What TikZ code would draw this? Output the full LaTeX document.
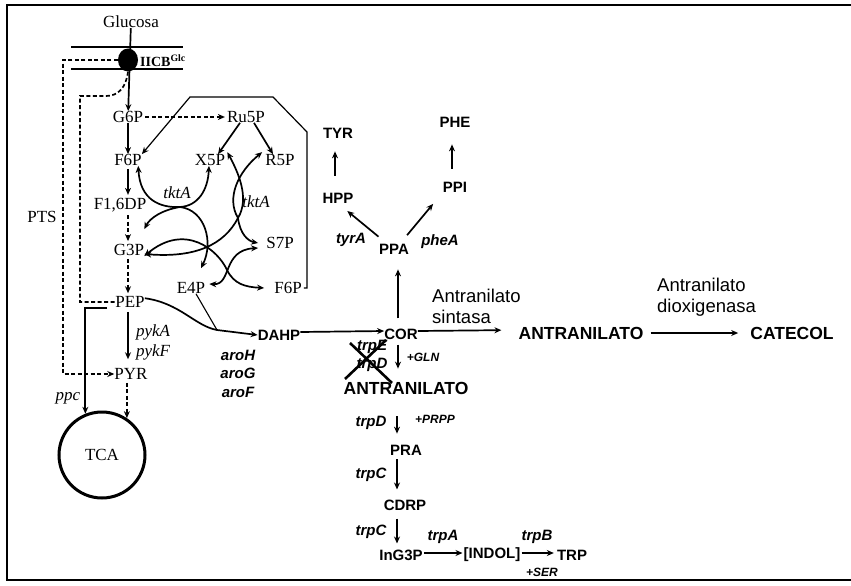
\documentclass[tikz,border=0pt]{standalone}
\usepackage{fontspec}
\setmainfont{Liberation Serif}
\newfontfamily\arialfont{Liberation Sans}
\usetikzlibrary{arrows.meta, shapes.geometric}

\begin{document}
\begin{tikzpicture}[
    x=1pt, y=-1pt,
    met/.style={inner sep=0pt, font=\fontsize{17}{19}\selectfont},
    enz/.style={inner sep=0pt, font=\fontsize{17}{19}\selectfont\itshape},
    aro/.style={inner sep=0pt, font=\arialfont\bfseries\fontsize{15}{17}\selectfont},
    big/.style={inner sep=0pt, font=\arialfont\bfseries\fontsize{17.5}{19}\selectfont},
    gene/.style={inner sep=0pt, font=\arialfont\bfseries\itshape\fontsize{15}{17}\selectfont},
    cof/.style={inner sep=0pt, font=\arialfont\bfseries\itshape\fontsize{12}{13}\selectfont},
    enzname/.style={inner sep=0pt, anchor=west, align=left,
                    font=\arialfont\fontsize{18.5}{21}\selectfont},
    arrow/.style={-{Stealth[length=7pt, width=6pt]}, line width=1.7pt},
    both/.style={{Stealth[length=7pt, width=6pt]}-{Stealth[length=7pt, width=6pt]}, line width=1.7pt},
    dasharrow/.style={arrow, dash pattern=on 4pt off 2.5pt},
    dashline/.style={line width=1.7pt, dash pattern=on 4pt off 2.5pt}
]
  \useasboundingbox (0,0) rectangle (851,586);
  % frame
  \draw[line width=2.4pt] (851,5) -- (7,5) -- (7,580) -- (851,580);

  % glucose uptake
  \node[met] (glc) at (131,22) {Glucosa};
  \draw[line width=1.1pt] (71,47) -- (183,47) (71,69) -- (183,69);
  \node[fill, ellipse, minimum width=20pt, minimum height=23pt, inner sep=0pt] (iicb) at (128,60) {};
  \node[inner sep=0pt, font=\fontsize{14}{16}\selectfont\bfseries] (iicblab) at (163,61) {IICB\textsuperscript{Glc}};
  \node[met] (pts) at (42,217) {PTS};

  % glycolysis
  \node[met] (g6p) at (128,117) {G6P};
  \node[met] (f6p) at (128,160) {F6P};
  \node[met] (fdp) at (120,205) {F1,6DP};
  \node[met] (g3p) at (129,250) {G3P};
  \node[met] (pep) at (130,302) {PEP};
  \node[met] (pyr) at (131,374) {PYR};
  \node[met, circle, draw, line width=3pt, minimum size=86pt] (tca) at (102,455) {TCA};
  \node[enz] (pyka) at (153,332) {pykA};
  \node[enz] (pykf) at (153,352) {pykF};
  \node[enz] (ppc) at (68,398) {ppc};

  % pentose phosphate
  \node[met] (ru5p) at (246,117) {Ru5P};
  \node[met] (x5p) at (210,160) {X5P};
  \node[met] (r5p) at (280,160) {R5P};
  \node[met] (s7p) at (280,243) {S7P};
  \node[met] (e4p) at (191,288) {E4P};
  \node[met] (f6pb) at (288,288) {F6P};
  \node[enz] (tkta) at (177,193) {tktA};
  \node[enz] (tktb) at (256,202) {tktA};
  \coordinate (ub) at (180,207);
  \coordinate (jr) at (238,218);

  \draw[arrow] (glc) -- (g6p);
  \draw[arrow] (g6p) -- (f6p);
  \draw[arrow, shorten <=3pt, shorten >=3pt] (f6p.south) -- (f6p |- fdp.north);
  \draw[dasharrow, shorten <=3pt, shorten >=3pt] (fdp.south -| f6p) -- (f6p |- g3p.north);
  \draw[dasharrow, shorten <=3pt, shorten >=3pt] (g3p.south -| f6p) -- (f6p |- pep.north);
  \draw[arrow, shorten <=4pt, shorten >=9pt] (pep.south -| f6p) -- (f6p |- pyr.north);
  \draw[dasharrow, shorten <=3pt] (pyr.south -| tca.56) -- (tca.56);
  \draw[arrow] ([xshift=-8pt]pep.south west) -| (tca.112);
  \draw[dasharrow] (iicb.west) -- (63,60) |- (pyr.west);
  \draw[dashline] (iicb.south) .. controls (126,88) and (118,96) .. (106,96) -- (80,96) |- (pep.west);

  \draw[dasharrow, shorten <=2pt, shorten >=2pt] (g6p.east) -- (ru5p.west);
  \draw[arrow] ([xshift=-6pt]ru5p.south) -- ([xshift=8pt]x5p.north);
  \draw[arrow] ([xshift=8pt]ru5p.south) -- ([xshift=-7pt]r5p.north);
  \draw[arrow, line width=1.2pt] ([xshift=2pt]f6pb.east) -| (307,132) -- (273,97) -- (190,97) -- (f6p.north east);

  \draw[both] (f6p.-30) .. controls (140,200) and (160,208) .. (ub)
              .. controls (198,206) and (208,190) .. (x5p.-100);
  \draw[arrow] (ub) .. controls (162,210) and (150,218) .. ([yshift=15pt]g3p.north east);
  \draw[arrow] (ub) .. controls (205,210) and (214,242) .. ([xshift=10pt, yshift=14pt]e4p.north);
  \draw[both] ([yshift=-12pt]g3p.north east) .. controls (185,222) and (218,250) .. (227,270)
              .. controls (234,284) and (245,287) .. ([xshift=-10pt]f6pb.west);
  \draw[arrow] (jr) .. controls (224,245) and (195,258) .. ([yshift=-4pt]g3p.east);
  \draw[arrow] (jr) .. controls (226,198) and (238,172) .. ([xshift=-3pt, yshift=2pt]r5p.north west);
  \draw[arrow] (jr) .. controls (250,198) and (238,172) .. ([xshift=2pt, yshift=2pt]x5p.north east);
  \draw[arrow] (jr) .. controls (240,234) and (248,241) .. ([xshift=-8pt]s7p.west);
  \draw[both] ([xshift=4pt, yshift=4pt]e4p.east) .. controls (232,285) and (222,250)
              .. ([xshift=-8pt, yshift=-5pt]s7p.west);

  % aromatic pathway
  \node[aro] (dahp) at (279,335) {DAHP};
  \node[gene] (aroh) at (238,355) {aroH};
  \node[gene] (arog) at (238,373) {aroG};
  \node[gene] (arof) at (238,392) {aroF};
  \node[aro] (cor) at (401,334) {COR};
  \node[aro] (ppa) at (394,249) {PPA};
  \node[aro] (hpp) at (338,198) {HPP};
  \node[aro] (tyr) at (338,133) {TYR};
  \node[aro] (ppi) at (455,187) {PPI};
  \node[aro] (phe) at (455,122) {PHE};
  \node[gene] (tyra) at (351,240) {tyrA};
  \node[gene] (phea) at (440,242) {pheA};
  \coordinate (jn) at (217,330);

  \draw[arrow] ([yshift=-2pt]pep.north east) .. controls (180,303) and (195,326) .. (jn) -- (dahp.west);
  \draw[line width=1.1pt] ([xshift=5pt]e4p.south) -- (jn);
  \draw[arrow] ([yshift=3pt]dahp.east) -- ([yshift=3pt]cor.west);
  \draw[arrow, shorten <=10pt, shorten >=15pt] ([xshift=-3pt]cor.north) -- ([xshift=-3pt]cor.north |- ppa.south);
  \draw[arrow, shorten <=11pt, shorten >=12pt] ([xshift=-7pt]ppa.north) -- (hpp.south);
  \draw[arrow, shorten <=11pt, shorten >=15pt] ([xshift=6pt]ppa.north) -- (ppi.south west);
  \draw[arrow, shorten <=17pt, shorten >=13pt] ([xshift=-3pt]hpp.north) -- ([xshift=-3pt]tyr.south);
  \draw[arrow, shorten <=13pt, shorten >=17pt] ([xshift=-3pt]ppi.north) -- ([xshift=-3pt]phe.south);

  % anthranilate branch
  \node[enzname] (ansint) at (432,306) {Antranilato\\sintasa};
  \node[big] (ant) at (581,333) {ANTRANILATO};
  \node[enzname] (andiox) at (657,297) {Antranilato\\dioxigenasa};
  \node[big] (cat) at (792,333) {CATECOL};
  \draw[arrow, shorten >=17pt] ([yshift=3pt]cor.east) -- ([yshift=3pt]ant.west);
  \draw[arrow, shorten <=7pt, shorten >=12pt] (ant.east) -- (cat.west);

  % tryptophan branch
  \node[gene] (trpe) at (372,347) {trpE};
  \node[gene] (trpda) at (372,365) {trpD};
  \node[cof] (gln) at (423,357) {+GLN};
  \node[big] (antb) at (406,388) {ANTRANILATO};
  \node[gene] (trpdb) at (371,423) {trpD};
  \node[cof] (prpp) at (435,419) {+PRPP};
  \node[aro] (pra) at (406,450) {PRA};
  \node[gene] (trpca) at (371,475) {trpC};
  \node[aro] (cdrp) at (405,505) {CDRP};
  \node[gene] (trpcb) at (371,532) {trpC};
  \node[aro] (ing3p) at (401,555) {InG3P};
  \node[gene] (trpa) at (443,537) {trpA};
  \node[aro] (indol) at (492,555) {[INDOL]};
  \node[gene] (trpb) at (537,537) {trpB};
  \node[cof] (ser) at (542,572) {+SER};
  \node[aro] (trp) at (572,555) {TRP};

  \draw[line width=2.6pt] (350,343) -- (392,383) (386,340) -- (345,379);
  \draw[arrow, shorten <=5pt, shorten >=13pt] ([xshift=-3pt]cor.south) -- ([xshift=-3pt]cor.south |- antb.north);
  \draw[arrow, shorten <=22pt, shorten >=11pt] ([xshift=-9pt]antb.south) -- ([xshift=-9pt]pra.north);
  \draw[arrow, shorten <=4pt, shorten >=10pt] ([xshift=-9pt]pra.south) -- ([xshift=-8pt]cdrp.north);
  \draw[arrow, shorten <=8pt, shorten >=6pt] ([xshift=-8pt]cdrp.south) -- ([xshift=-4pt]ing3p.north);
  \draw[arrow, shorten <=1pt, shorten >=1pt] ([yshift=2pt]ing3p.east) -- ([yshift=2pt]indol.west);
  \draw[arrow, shorten <=1pt, shorten >=3pt] ([yshift=2pt]indol.east) -- ([yshift=2pt]trp.west);
\end{tikzpicture}
\end{document}
